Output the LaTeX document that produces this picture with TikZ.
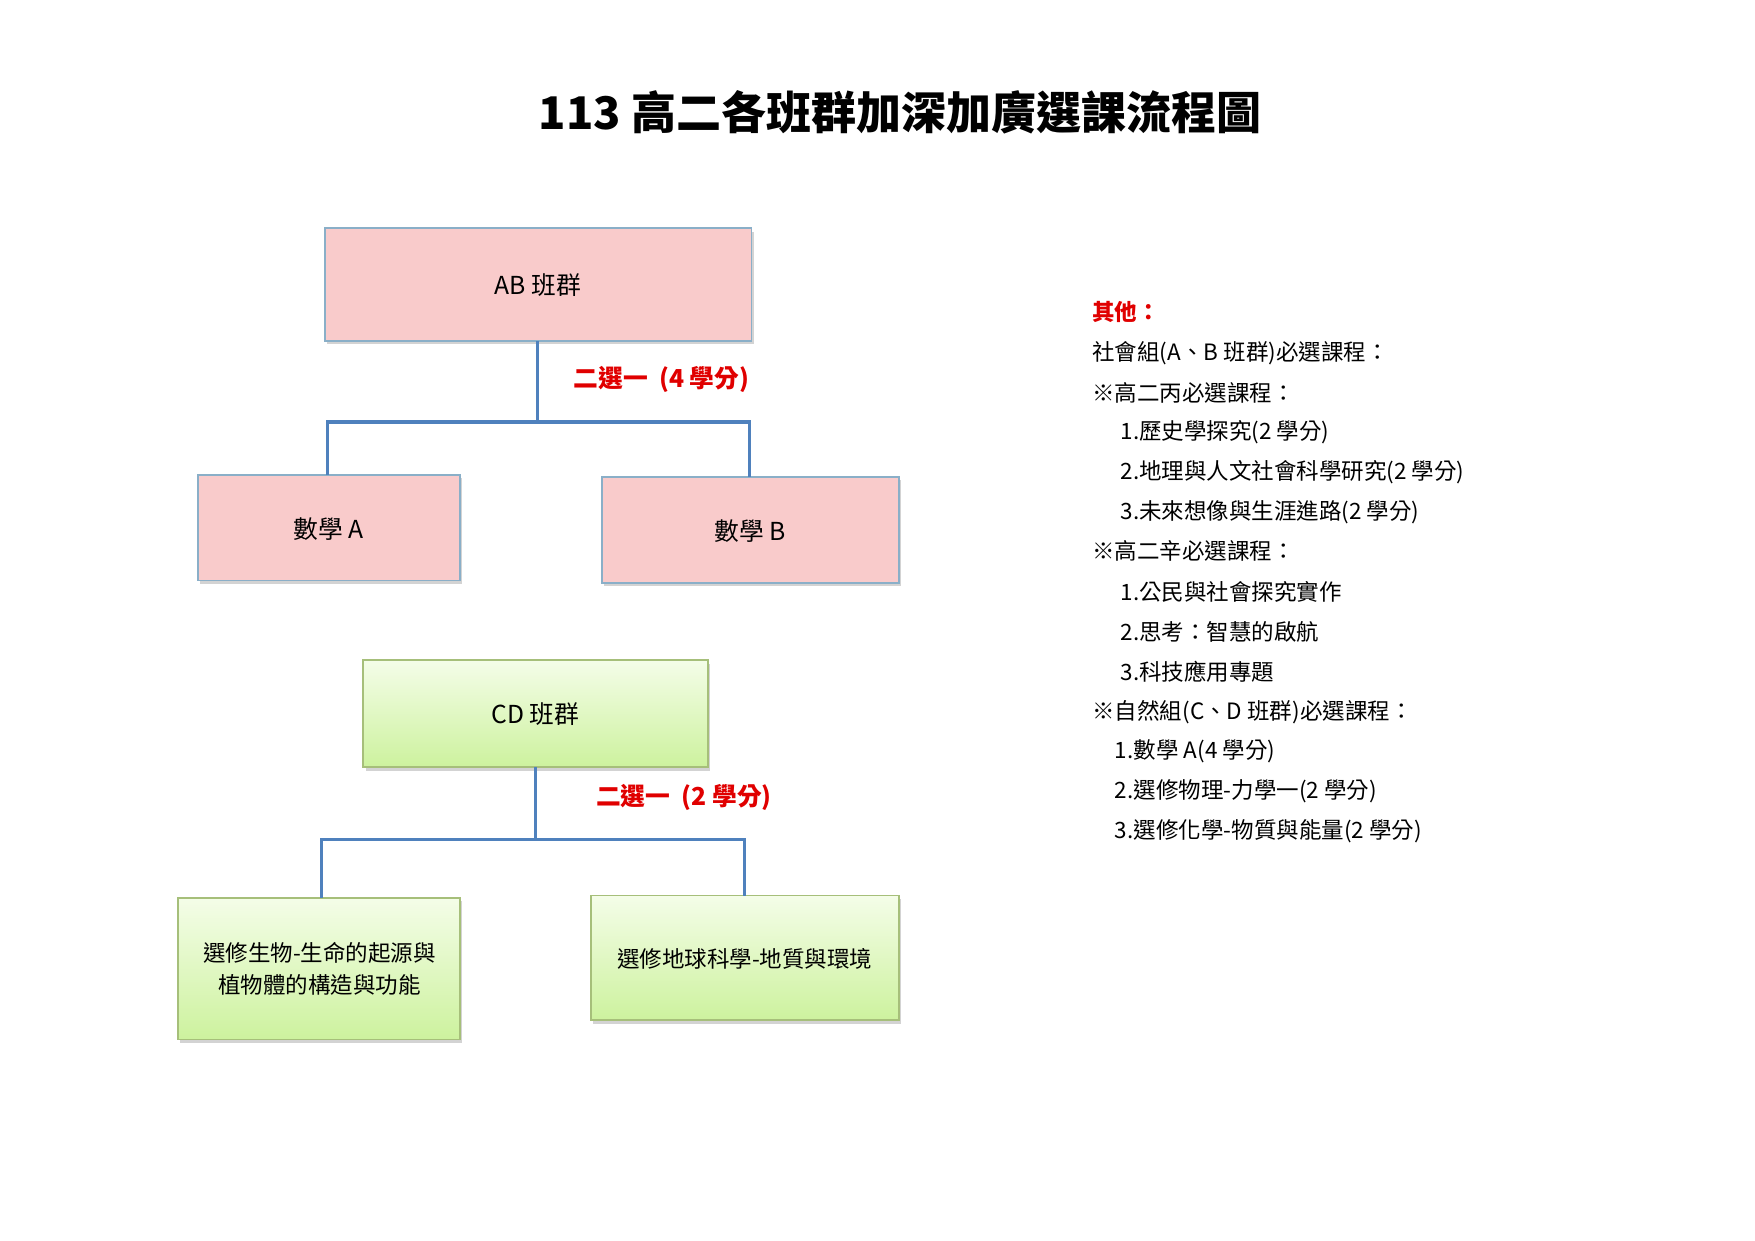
\documentclass[tikz,border=0pt]{standalone}
\usepackage{fontspec}
\setmainfont{Noto Sans CJK TC}
\newfontfamily\titlefont{Noto Sans CJK TC}
\usetikzlibrary{shadows}
\definecolor{pinkf}{HTML}{F9CBCB}
\definecolor{boxb}{HTML}{8AAFC8}
\definecolor{greenb}{HTML}{A6BF7A}
\definecolor{gtop}{HTML}{F4FDE8}
\definecolor{gbot}{HTML}{CDF29E}
\definecolor{linec}{HTML}{4F81BD}
\definecolor{redc}{HTML}{E00000}
\tikzset{
 pbox/.style={draw=boxb,line width=0.8pt,fill=pinkf,drop shadow={shadow xshift=1pt,shadow yshift=-1.5pt,opacity=0.35}},
 gbox/.style={draw=greenb,line width=0.8pt,top color=gtop,bottom color=gbot,drop shadow={shadow xshift=1pt,shadow yshift=-1.5pt,opacity=0.35}},
 conn/.style={draw=linec,line width=1.5pt},
 lbl/.style={font=\fontsize{11}{13}\selectfont},
 note/.style={anchor=west,font=\fontsize{10}{12}\selectfont},
}
\begin{document}
\begin{tikzpicture}[x=0.5pt,y=-0.5pt]
\useasboundingbox (0,0) rectangle (1560,1103);
\node[font=\titlefont\bfseries\fontsize{20}{24}\selectfont] (title) at (800,100) {113 高二各班群加深加廣選課流程圖};
% AB
\path[pbox] (289,203) rectangle (668,303);
\node[lbl] (ab) at (478,253) {AB 班群};
\path[pbox] (176,422) rectangle (409,516);
\node[lbl] (ma) at (292,470) {數學 A};
\path[pbox] (535,424) rectangle (799,518);
\node[lbl] (mb) at (667,472) {數學 B};
\coordinate (abb) at (478,303);
\coordinate (abj) at (478,375);
\coordinate (al) at (291,375);
\coordinate (ar) at (666,375);
\coordinate (mat) at (291,422);
\coordinate (mbt) at (666,424);
\draw[conn] (abb) -- (abj);
\draw[conn] (mat) -- (al) -- (ar) -- (mbt);
\node[lbl,text=redc,font=\bfseries\fontsize{11}{13}\selectfont] (l1) at (588,337) {二選一\ \ (4 學分)};
% CD
\path[gbox] (323,587) rectangle (629,682);
\node[lbl] (cd) at (476,635) {CD 班群};
\path[gbox] (158,798) rectangle (409,924);
\node[lbl,align=center,font=\fontsize{10}{14}\selectfont] (bio) at (284,861) {選修生物-生命的起源與\\植物體的構造與功能};
\path[gbox] (525,796) rectangle (799,907);
\node[lbl,font=\fontsize{10}{12}\selectfont] (geo) at (662,852) {選修地球科學-地質與環境};
\coordinate (cdb) at (476,682);
\coordinate (cdj) at (476,746);
\coordinate (cl) at (286,746);
\coordinate (cr) at (662,746);
\coordinate (biot) at (286,798);
\coordinate (geot) at (662,796);
\draw[conn] (cdb) -- (cdj);
\draw[conn] (biot) -- (cl) -- (cr) -- (geot);
\node[lbl,text=redc,font=\bfseries\fontsize{11}{13}\selectfont] (l2) at (608,709) {二選一\ \ (2 學分)};
% notes
\node[note,text=redc,font=\bfseries\fontsize{10}{12}\selectfont] (n0) at (964,277) {其他：};
\node[note] (n1) at (964,314) {社會組(A、B 班群)必選課程：};
\node[note] (n2) at (964,349) {※高二丙必選課程：};
\node[note] (n3) at (989,384) {1.歷史學探究(2 學分)};
\node[note] (n4) at (989,420) {2.地理與人文社會科學研究(2 學分)};
\node[note] (n5) at (989,455) {3.未來想像與生涯進路(2 學分)};
\node[note] (n6) at (964,490) {※高二辛必選課程：};
\node[note] (n7) at (989,526) {1.公民與社會探究實作};
\node[note] (n8) at (989,562) {2.思考：智慧的啟航};
\node[note] (n9) at (989,597) {3.科技應用專題};
\node[note] (n10) at (964,633) {※自然組(C、D 班群)必選課程：};
\node[note] (n11) at (984,668) {1.數學 A(4 學分)};
\node[note] (n12) at (984,703) {2.選修物理-力學一(2 學分)};
\node[note] (n13) at (984,739) {3.選修化學-物質與能量(2 學分)};
\end{tikzpicture}
\end{document}
